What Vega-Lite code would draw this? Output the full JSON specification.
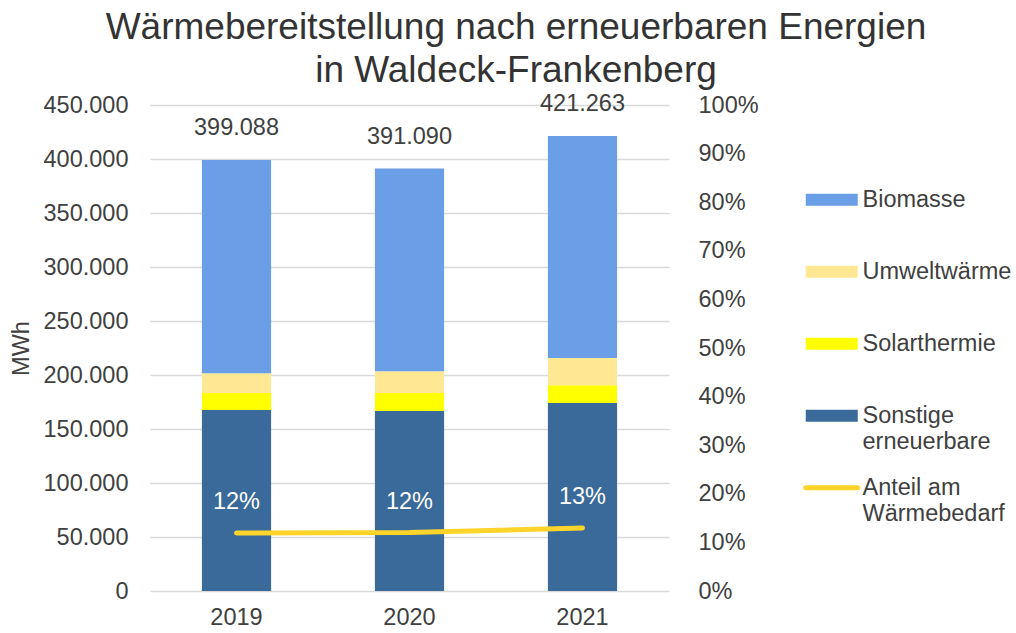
{
  "$schema": "https://vega.github.io/schema/vega-lite/v6.json",
  "autosize": "none",
  "width": 526,
  "height": 486,
  "padding": {"left": 150, "top": 105, "right": 340, "bottom": 42},
  "background": "white",
  "config": {
    "font": "Liberation Sans",
    "view": {"stroke": null},
    "locale": {"number": {"decimal": ",", "thousands": ".", "grouping": [3], "currency": ["", " €"]}},
    "axis": {"labelFontSize": 23.5, "labelColor": "#404040", "titleFontSize": 23.5, "titleColor": "#404040", "titleFontWeight": "normal", "domain": false, "ticks": false, "gridColor": "#d9d9d9", "gridWidth": 1.4}
  },
  "title": {
    "text": ["Wärmebereitstellung nach erneuerbaren Energien", "in Waldeck-Frankenberg"],
    "anchor": "middle",
    "frame": "group",
    "dx": 103,
    "offset": 2,
    "fontSize": 37,
    "lineHeight": 43,
    "fontWeight": "normal",
    "color": "#333333"
  },
  "datasets": {
    "energie": [
      {"Jahr": "2019", "Typ": "Sonstige erneuerbare", "MWh": 167600},
      {"Jahr": "2019", "Typ": "Solarthermie", "MWh": 15700},
      {"Jahr": "2019", "Typ": "Umweltwärme", "MWh": 18300},
      {"Jahr": "2019", "Typ": "Biomasse", "MWh": 197488},
      {"Jahr": "2020", "Typ": "Sonstige erneuerbare", "MWh": 166700},
      {"Jahr": "2020", "Typ": "Solarthermie", "MWh": 16700},
      {"Jahr": "2020", "Typ": "Umweltwärme", "MWh": 20100},
      {"Jahr": "2020", "Typ": "Biomasse", "MWh": 187590},
      {"Jahr": "2021", "Typ": "Sonstige erneuerbare", "MWh": 174100},
      {"Jahr": "2021", "Typ": "Solarthermie", "MWh": 16400},
      {"Jahr": "2021", "Typ": "Umweltwärme", "MWh": 25300},
      {"Jahr": "2021", "Typ": "Biomasse", "MWh": 205463}
    ],
    "anteil": [
      {"Jahr": "2019", "Anteil": 0.1194},
      {"Jahr": "2020", "Anteil": 0.1202},
      {"Jahr": "2021", "Anteil": 0.1297}
    ]
  },
  "encoding": {
    "x": {
      "field": "Jahr", "type": "nominal",
      "scale": {"range": [0, 519], "paddingInner": 0.6, "paddingOuter": 0.3},
      "axis": {"title": null, "labelAngle": 0, "labelPadding": 14, "grid": false}
    }
  },
  "layer": [
    {
      "layer": [
        {
          "data": {"name": "energie"},
          "transform": [{"calculate": "indexof(['Sonstige erneuerbare','Solarthermie','Umweltwärme','Biomasse'], datum.Typ)", "as": "rank"}],
          "mark": {"type": "bar"},
          "encoding": {
            "y": {
              "field": "MWh", "type": "quantitative", "aggregate": "sum",
              "scale": {"domain": [0, 450000], "nice": false},
              "axis": {"title": "MWh", "values": [0, 50000, 100000, 150000, 200000, 250000, 300000, 350000, 400000, 450000], "format": ",.0f", "labelPadding": 22, "titlePadding": 10}
            },
            "color": {
              "field": "Typ", "type": "nominal",
              "scale": {
                "domain": ["Biomasse", "Umweltwärme", "Solarthermie", "Sonstige erneuerbare", "Anteil am Wärmebedarf"],
                "range": ["#6A9FE8", "#FFE794", "#FFFF00", "#3A6A99", "#FFD42A"]
              },
              "legend": {
                "title": null,
                "orient": "none",
                "legendX": 670,
                "legendY": 83,
                "padding": 0,
                "symbolSize": 2704,
                "labelFontSize": 23.5,
                "labelColor": "#404040",
                "labelOffset": 19,
                "labelLimit": 400,
                "rowPadding": 21,
                "labelExpr": "datum.label == 'Sonstige erneuerbare' ? ['Sonstige','erneuerbare'] : datum.label == 'Anteil am Wärmebedarf' ? ['Anteil am','Wärmebedarf'] : [datum.label, '']",
                "encode": {
                  "symbols": {"update": {
                    "shape": {"signal": "datum.value === 'Anteil am Wärmebedarf' ? 'stroke' : 'M-1,-0.23H1V0.23H-1Z'"},
                    "fill": {"signal": "datum.value === 'Anteil am Wärmebedarf' ? 'transparent' : scale('color', datum.value)"},
                    "stroke": {"signal": "datum.value === 'Anteil am Wärmebedarf' ? scale('color', datum.value) : 'transparent'"},
                    "strokeWidth": {"signal": "datum.value === 'Anteil am Wärmebedarf' ? 5 : 0"},
                    "strokeCap": {"value": "round"},
                    "opacity": {"value": 1}
                  }},
                  "labels": {"update": {"lineHeight": {"value": 26.5}}}
                }
              }
            },
            "order": {"field": "rank", "type": "quantitative"}
          }
        },
        {
          "data": {"name": "energie"},
          "transform": [{"aggregate": [{"op": "sum", "field": "MWh", "as": "Total"}], "groupby": ["Jahr"]}],
          "mark": {"type": "text", "dy": -32, "fontSize": 23.5, "color": "#404040", "baseline": "middle"},
          "encoding": {
            "y": {"field": "Total", "type": "quantitative"},
            "text": {"field": "Total", "type": "quantitative", "format": ",.0f"}
          }
        }
      ]
    },
    {
      "data": {"name": "anteil"},
      "layer": [
        {
          "mark": {"type": "line", "strokeWidth": 5, "strokeCap": "round"},
          "encoding": {
            "y": {
              "field": "Anteil", "type": "quantitative",
              "scale": {"domain": [0, 1], "nice": false},
              "axis": {"orient": "right", "title": null, "values": [0, 0.1, 0.2, 0.3, 0.4, 0.5, 0.6, 0.7, 0.8, 0.9, 1], "format": ".0%", "grid": false, "labelPadding": 22}
            },
            "color": {"datum": "Anteil am Wärmebedarf", "type": "nominal"}
          }
        },
        {
          "mark": {"type": "text", "dy": -31, "fontSize": 23.5, "color": "white", "baseline": "middle"},
          "encoding": {
            "y": {"field": "Anteil", "type": "quantitative"},
            "text": {"field": "Anteil", "type": "quantitative", "format": ".0%"}
          }
        }
      ]
    }
  ],
  "resolve": {"scale": {"y": "independent"}}
}
